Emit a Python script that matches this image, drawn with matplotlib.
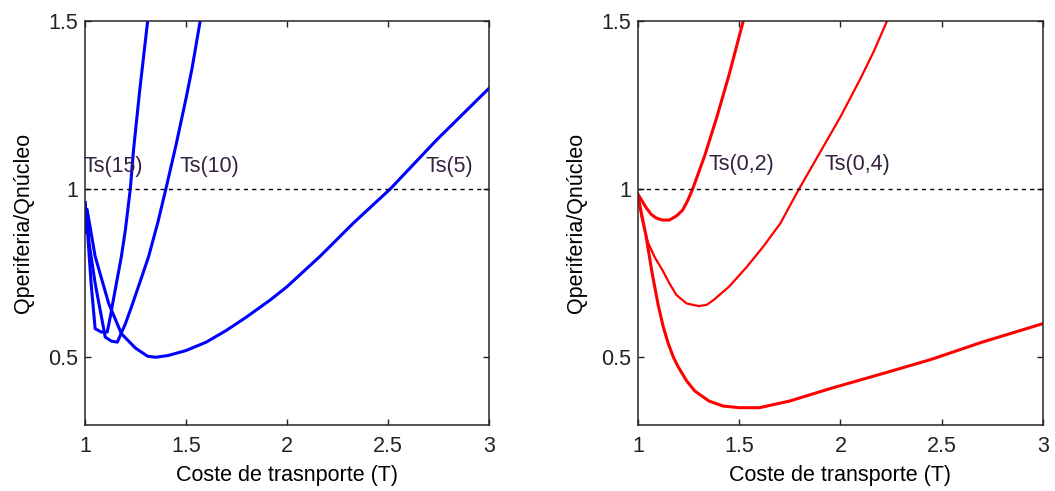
import matplotlib
matplotlib.use("Agg")
import matplotlib.pyplot as plt

plt.rcParams["font.family"] = ["Liberation Sans", "DejaVu Sans"]
plt.rcParams["font.size"] = 15.5

# left panel: Ts(5), Ts(10), Ts(15)
ts5_x = [1.0, 1.005, 1.01, 1.05, 1.117, 1.18, 1.25, 1.31, 1.35, 1.41, 1.5, 1.6, 1.7, 1.8,
         1.916, 2.0, 2.163, 2.33, 2.51, 2.74, 3.0]
ts5_y = [0.96, 0.90, 0.94, 0.80, 0.66, 0.57, 0.527, 0.503, 0.50, 0.505, 0.52, 0.545, 0.58, 0.62,
         0.67, 0.71, 0.80, 0.90, 1.0, 1.146, 1.30]

ts10_x = [1.0, 1.005, 1.01, 1.02, 1.05, 1.10, 1.13, 1.16, 1.2, 1.23, 1.27, 1.315, 1.36, 1.40,
          1.45, 1.5, 1.53, 1.57]
ts10_y = [0.95, 0.87, 0.92, 0.84, 0.72, 0.56, 0.548, 0.545, 0.60, 0.65, 0.72, 0.80, 0.90, 1.0,
          1.13, 1.27, 1.36, 1.5]

ts15_x = [1.0, 1.005, 1.01, 1.015, 1.03, 1.05, 1.08, 1.11, 1.125, 1.14, 1.16, 1.18, 1.2,
          1.224, 1.24, 1.27, 1.31]
ts15_y = [0.96, 0.88, 0.93, 0.85, 0.72, 0.585, 0.575, 0.575, 0.62, 0.67, 0.735, 0.80, 0.88,
          1.0, 1.116, 1.29, 1.5]

# right panel: Ts(0,2), Ts(0,4) and the lowest curve
ts02_x = [1.0, 1.02, 1.04, 1.065, 1.09, 1.12, 1.155, 1.19, 1.22, 1.245, 1.27, 1.33, 1.39,
          1.45, 1.52]
ts02_y = [0.985, 0.965, 0.945, 0.925, 0.914, 0.908, 0.908, 0.92, 0.937, 0.965, 1.0, 1.10, 1.215,
          1.34, 1.5]

ts04_x = [1.0, 1.02, 1.05, 1.085, 1.12, 1.155, 1.19, 1.24, 1.3, 1.34, 1.373, 1.45, 1.538,
          1.62, 1.703, 1.795, 1.9, 2.0, 2.1, 2.165, 2.23]
ts04_y = [0.98, 0.91, 0.84, 0.795, 0.76, 0.72, 0.685, 0.66, 0.652, 0.656, 0.67, 0.71, 0.769,
          0.83, 0.898, 1.0, 1.11, 1.215, 1.33, 1.41, 1.5]

low_x = [1.0, 1.02, 1.04, 1.07, 1.10, 1.125, 1.15, 1.175, 1.2, 1.24, 1.28, 1.35, 1.42, 1.5,
         1.6, 1.75, 1.95, 2.2, 2.445, 2.7, 3.0]
low_y = [0.98, 0.92, 0.86, 0.75, 0.655, 0.59, 0.54, 0.50, 0.47, 0.43, 0.40, 0.37, 0.355, 0.35,
         0.35, 0.37, 0.407, 0.45, 0.493, 0.545, 0.60]

x_ticks = [1, 1.5, 2, 2.5, 3]
x_tick_labels = ["1", "1.5", "2", "2.5", "3"]
y_ticks = [0.5, 1, 1.5]
y_tick_labels = ["0.5", "1", "1.5"]

label_color = "#35203f"

fig = plt.figure(figsize=(10.55, 4.91), dpi=100)
ax1 = fig.add_axes([0.0806, 0.1354, 0.383, 0.822])
ax2 = fig.add_axes([0.6047, 0.1354, 0.3839, 0.822])


def style_axes(ax, xlabel):
    ax.set_xlim(1, 3)
    ax.set_ylim(0.3, 1.5)
    ax.set_xticks(x_ticks)
    ax.set_xticklabels(x_tick_labels)
    ax.set_yticks(y_ticks)
    ax.set_yticklabels(y_tick_labels)
    ax.tick_params(direction="in", top=True, right=True, length=4, width=1, colors="#222222")
    ax.tick_params(axis="x", pad=8)
    ax.tick_params(axis="y", pad=5)
    for spine in ax.spines.values():
        spine.set_linewidth(1.1)
        spine.set_color("#262626")
    ax.set_xlabel(xlabel, labelpad=6)
    ax.set_ylabel("Qperiferia/Qnúcleo", labelpad=10)
    ax.axhline(1, color="black", linestyle=(0, (3, 3)), linewidth=1)


ax1.plot(ts5_x, ts5_y, color="#0000ff", linewidth=2.2)
ax1.plot(ts10_x, ts10_y, color="#0000ff", linewidth=2.2)
ax1.plot(ts15_x, ts15_y, color="#0000ff", linewidth=2.2)
style_axes(ax1, "Coste de trasnporte (T)")
ax1.text(0.99, 1.066, "Ts(15)", color=label_color, va="center", ha="left", clip_on=False)
ax1.text(1.47, 1.066, "Ts(10)", color=label_color, va="center", ha="left")
ax1.text(2.683, 1.066, "Ts(5)", color=label_color, va="center", ha="left")

ax2.plot(ts02_x, ts02_y, color="#ff0000", linewidth=2.2)
ax2.plot(ts04_x, ts04_y, color="#ff0000", linewidth=1.6)
ax2.plot(low_x, low_y, color="#ff0000", linewidth=2.2)
style_axes(ax2, "Coste de transporte (T)")
ax2.text(1.35, 1.074, "Ts(0,2)", color=label_color, va="center", ha="left")
ax2.text(1.92, 1.074, "Ts(0,4)", color=label_color, va="center", ha="left")

fig.savefig("out.png", dpi=100)
